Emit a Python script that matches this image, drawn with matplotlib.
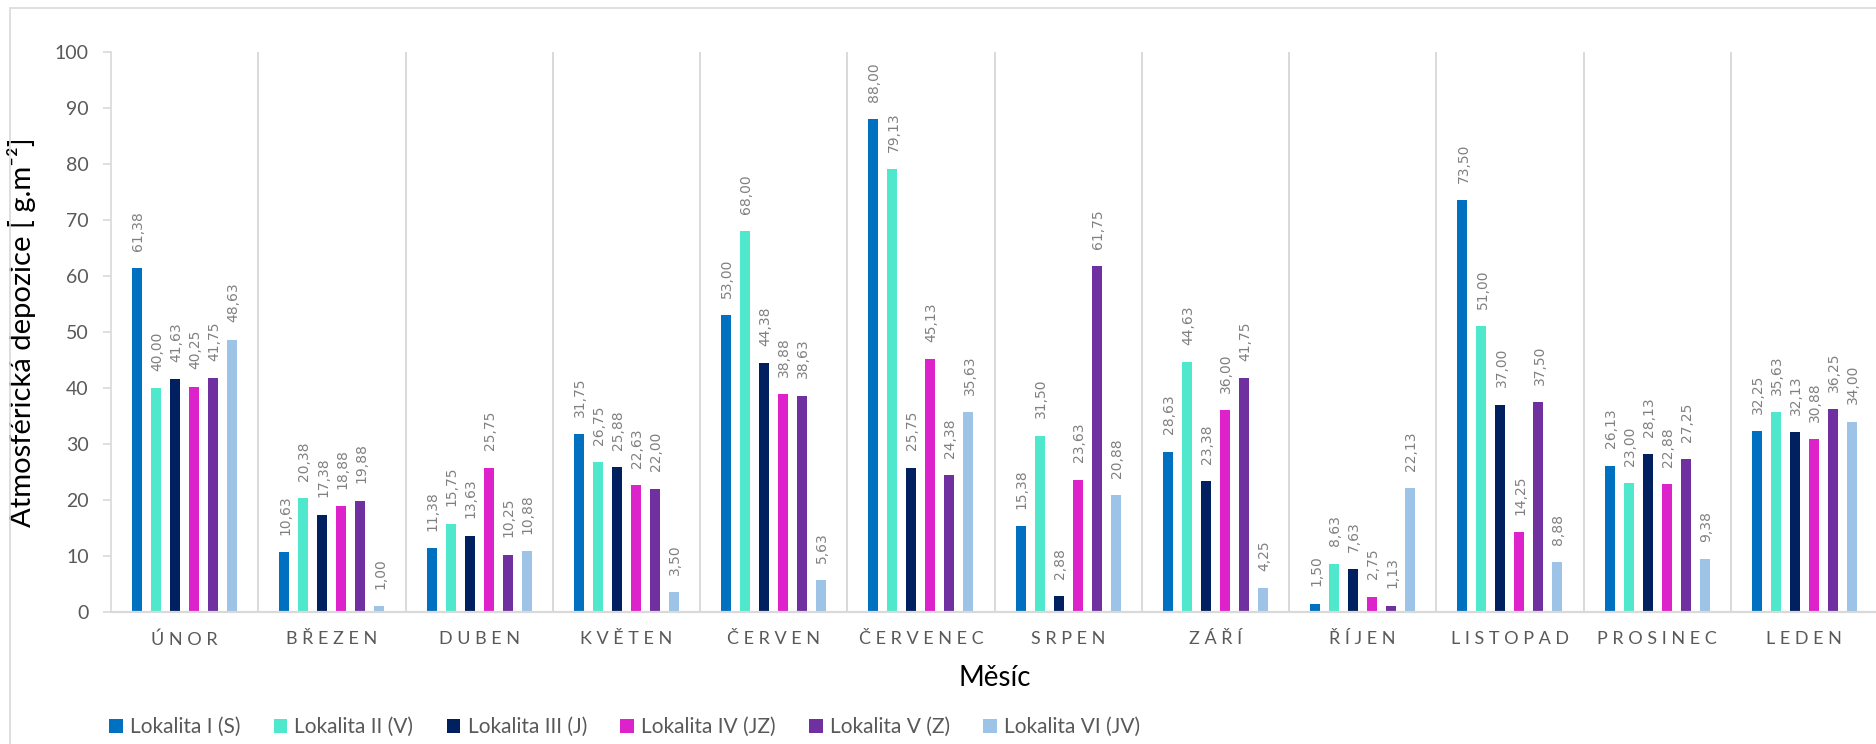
# -*- coding: utf-8 -*-
## Atmosférická depozice po měsících, 6 lokalit
import matplotlib.pyplot as plt
from matplotlib.patches import Rectangle
import numpy as np

mesice = ["ÚNOR", "BŘEZEN", "DUBEN", "KVĚTEN", "ČERVEN", "ČERVENEC",
          "SRPEN", "ZÁŘÍ", "ŘÍJEN", "LISTOPAD", "PROSINEC", "LEDEN"]

lokality = ["Lokalita I (S)", "Lokalita II (V)", "Lokalita III (J)",
            "Lokalita IV (JZ)", "Lokalita V (Z)", "Lokalita VI (JV)"]

lok_1 = [61.38, 10.63, 11.38, 31.75, 53.00, 88.00, 15.38, 28.63, 1.50, 73.50, 26.13, 32.25]
lok_2 = [40.00, 20.38, 15.75, 26.75, 68.00, 79.13, 31.50, 44.63, 8.63, 51.00, 23.00, 35.63]
lok_3 = [41.63, 17.38, 13.63, 25.88, 44.38, 25.75, 2.88, 23.38, 7.63, 37.00, 28.13, 32.13]
lok_4 = [40.25, 18.88, 25.75, 22.63, 38.88, 45.13, 23.63, 36.00, 2.75, 14.25, 22.88, 30.88]
lok_5 = [41.75, 19.88, 10.25, 22.00, 38.63, 24.38, 61.75, 41.75, 1.13, 37.50, 27.25, 36.25]
lok_6 = [48.63, 1.00, 10.88, 3.50, 5.63, 35.63, 20.88, 4.25, 22.13, 8.88, 9.38, 34.00]

barvy = ["#0070C0", "#50E8CC", "#002060", "#DD22CC", "#7030A0", "#9DC3E6"]

FONT = ["Lato", "DejaVu Sans"]
SEDA = "#595959"
MRIZKA = "#D9D9D9"

W, H = 1876, 744
fig = plt.figure(figsize=(W / 100, H / 100), dpi=100)

# rámeček grafu
fig.patches.append(Rectangle((10 / W, -0.1), 1.2, 1 - 8 / H + 0.1, transform=fig.transFigure,
                             fill=False, edgecolor=MRIZKA, linewidth=1.2))

ax = fig.add_axes([111 / W, 1 - 612 / H, (1878 - 111) / W, (612 - 52) / H])

x = np.arange(len(mesice))
sirka = 0.068
krok = 0.129
sloupce = []
for i, (data, barva) in enumerate(zip([lok_1, lok_2, lok_3, lok_4, lok_5, lok_6], barvy)):
    pos = x + (i - 2.5) * krok
    b = ax.bar(pos, data, width=sirka, color=barva, label=lokality[i], zorder=3)
    sloupce.append(b)
    # popisky hodnot s desetinnou čárkou
    for px, v in zip(pos, data):
        ax.annotate(f"{v:.2f}".replace(".", ","), (px, v), xytext=(0.8, 12.5),
                    textcoords="offset points", rotation=90, ha="center", va="bottom",
                    fontsize=10, color="#808080", family="DejaVu Sans")

ax.set_xlim(-0.5, len(mesice) - 0.5)
ax.set_ylim(0, 100)
ax.set_yticks(range(0, 101, 10))
ax.tick_params(axis="y", length=6, width=1.2, color=MRIZKA, pad=10, labelsize=14, labelcolor=SEDA)
for t in ax.get_yticklabels():
    t.set_family(FONT)

ax.set_xticks(x)
ax.set_xticklabels([" ".join(m) for m in mesice], fontsize=13, color=SEDA, family=FONT)
ax.tick_params(axis="x", which="both", length=0, pad=14)

# svislé oddělovače mezi měsíci
ax.set_xticks(x[:-1] + 0.5, minor=True)
ax.grid(which="minor", axis="x", color=MRIZKA, linewidth=1.4, zorder=0)

for s in ["top", "right"]:
    ax.spines[s].set_visible(False)
ax.spines["left"].set_color(MRIZKA)
ax.spines["left"].set_linewidth(1.2)
ax.spines["bottom"].set_color(MRIZKA)
ax.spines["bottom"].set_linewidth(1.6)
ax.spines["bottom"].set_zorder(4)

ax.set_xlabel("Měsíc", fontsize=20, family=FONT, color="black", labelpad=12)
ax.set_ylabel("Atmosférická depozice [ g.m⁻²]", fontsize=21, family=FONT, color="black")
ax.yaxis.set_label_coords((36 - 111) / 1767, 0.5)

leg = fig.legend(handles=sloupce, labels=lokality, loc="center left",
                 bbox_to_anchor=(109 / W, 1 - 727 / H), ncol=6, frameon=False,
                 handlelength=0.65, handleheight=0.65, handletextpad=0.35,
                 columnspacing=1.6, borderpad=0, borderaxespad=0,
                 prop={"family": FONT, "size": 15})
for t in leg.get_texts():
    t.set_color(SEDA)

plt.savefig("out.png", dpi=100)
